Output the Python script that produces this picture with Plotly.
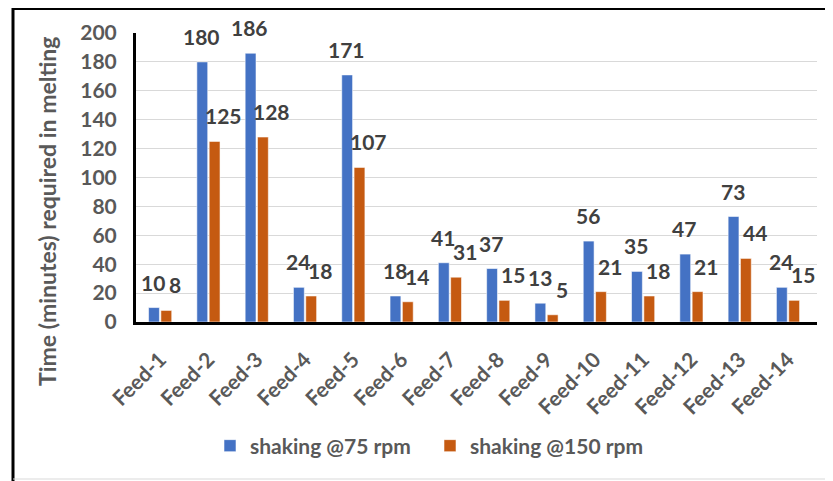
import plotly.graph_objects as go

categories = ["Feed-1", "Feed-2", "Feed-3", "Feed-4", "Feed-5", "Feed-6", "Feed-7",
              "Feed-8", "Feed-9", "Feed-10", "Feed-11", "Feed-12", "Feed-13", "Feed-14"]
rpm75 = [10, 180, 186, 24, 171, 18, 41, 37, 13, 56, 35, 47, 73, 24]
rpm150 = [8, 125, 128, 18, 107, 14, 31, 15, 5, 21, 18, 21, 44, 15]
series_names = ["shaking @75 rpm", "shaking @150 rpm"]
colors = ["#4472C4", "#C55A11"]
y_ticks = [0, 20, 40, 60, 80, 100, 120, 140, 160, 180, 200]
y_title = "Time (minutes) required in melting"

FONT = "Lato"
OFF = 8  # page body margin of the html page
W, H = 833 - OFF, 481 - OFF
L, R, T, B = 136 - OFF, 16, 33 - OFF, 159
pw, ph = W - L - R, H - T - B

def px_x(px):
    """page pixel x -> paper coordinate"""
    return (px - OFF - L) / pw

def px_y(py):
    """page pixel y -> paper coordinate"""
    return (H - B - (py - OFF)) / ph

fig = go.Figure()
for name, vals, col in zip(series_names, [rpm75, rpm150], colors):
    fig.add_trace(go.Bar(
        x=categories, y=vals, name=name,
        marker=dict(color=col, line=dict(color="rgba(255,255,255,0.55)", width=1)),
    ))

annotations = []
for vals, xs in [(rpm75, -7), (rpm150, 15)]:
    for c, v in zip(categories, vals):
        annotations.append(dict(
            x=c, y=v, xref="x", yref="y", text=str(v), showarrow=False,
            xanchor="center", yanchor="bottom", xshift=xs, yshift=11,
            font=dict(family=FONT, size=21, color="#404040", weight="bold"),
        ))
annotations.append(dict(
    x=px_x(47), y=px_y(212), xref="paper", yref="paper", text=y_title,
    showarrow=False, textangle=-90, xanchor="center", yanchor="middle",
    font=dict(family=FONT, size=23, color="#595959", weight="bold"),
))

shapes = [
    dict(type="line", xref="paper", yref="paper",
         x0=px_x(12), x1=px_x(835), y0=px_y(8.5), y1=px_y(8.5),
         line=dict(color="black", width=3)),
    dict(type="line", xref="paper", yref="paper",
         x0=px_x(13), x1=px_x(13), y0=px_y(7), y1=px_y(482),
         line=dict(color="black", width=3)),
    dict(type="line", xref="paper", yref="paper",
         x0=px_x(13), x1=px_x(835), y0=px_y(479), y1=px_y(479),
         line=dict(color="#D9D9D9", width=1)),
]

fig.update_layout(
    width=W, height=H,
    margin=dict(l=L, r=R, t=T, b=B, autoexpand=False),
    paper_bgcolor="white", plot_bgcolor="white",
    barmode="group", bargap=0.49, bargroupgap=0.12,
    font=dict(family=FONT, color="#595959"),
    annotations=annotations,
    shapes=shapes,
    showlegend=True,
    legend=dict(
        orientation="h", x=px_x(210), xanchor="left",
        y=px_y(446), yanchor="middle",
        entrywidth=175, entrywidthmode="pixels",
        font=dict(family=FONT, size=21, color="#595959", weight="bold"),
        traceorder="normal",
    ),
)
fig.update_xaxes(
    automargin=False,
    showline=True, linecolor="black", linewidth=3,
    tickangle=-45, ticks="outside", ticklen=14, tickcolor="rgba(0,0,0,0)",
    tickfont=dict(family=FONT, size=21, color="#595959", weight="bold"),
    showgrid=False,
)
fig.update_yaxes(
    automargin=False,
    range=[0, 200], tickvals=y_ticks,
    showline=True, linecolor="black", linewidth=3,
    showgrid=True, gridcolor="#D9D9D9", gridwidth=1,
    ticks="outside", ticklen=12, tickcolor="rgba(0,0,0,0)",
    tickfont=dict(family=FONT, size=21, color="#595959", weight="bold"),
    zeroline=False,
)

fig.write_html("out.html")
